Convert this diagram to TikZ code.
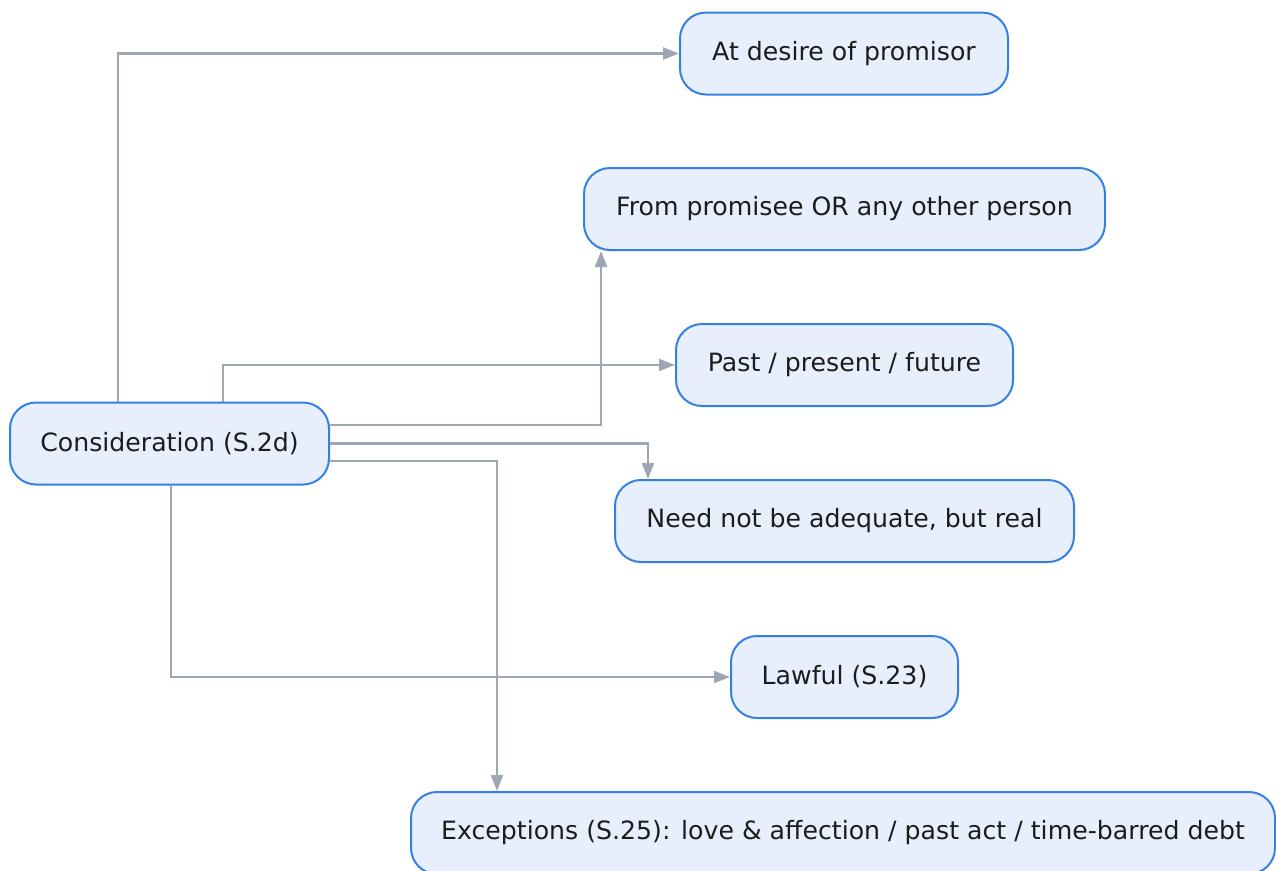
\documentclass[tikz,border=0pt]{standalone}
\usepackage{fontspec}
\setmainfont{DejaVu Sans}
\usetikzlibrary{arrows.meta}
\definecolor{boxfill}{HTML}{E8EFFC}
\definecolor{boxline}{HTML}{3580E4}
\definecolor{wire}{HTML}{9CA6B5}
\definecolor{ink}{HTML}{1C1C1C}
\begin{document}
\begin{tikzpicture}[x=1pt,y=-1pt,
  box/.style={draw=boxline, fill=boxfill, line width=2pt, rounded corners=26pt,
    minimum height=82pt, inner sep=0pt, text=ink,
    font=\fontsize{25.2}{30}\selectfont},
  link/.style={draw=wire, line width=2.2pt,
    -{Triangle[length=16pt,width=12pt]}}]
  \useasboundingbox (0,0) rectangle (1276,870);

  % root concept
  \node[box, minimum width=319pt] (cons) at (169.5,443.5) {Consideration (S.2d)};

  % the six characteristics
  \node[box, minimum width=328pt] (desire) at (844,53.5) {At desire of promisor};
  \node[box, minimum width=521pt] (from)   at (844.5,209) {From promisee OR any other person};
  \node[box, minimum width=337pt] (past)   at (844.5,365) {Past / present / future};
  \node[box, minimum width=459pt] (need)   at (844.5,521) {Need not be adequate, but real};
  \node[box, minimum width=227pt] (lawful) at (844.5,677) {Lawful (S.23)};
  \node[box, minimum width=864pt] (exc)    at (843,833) {Exceptions (S.25): love \& affection / past act / time-barred debt};

  % connectors
  \draw[link] ([xshift=-51.5pt]cons.north) |- (desire.west);
  \draw[link] ([yshift=18.5pt]cons.east) -| ([xshift=-243.5pt]from.south);
  \draw[link] ([xshift=53.5pt]cons.north) |- (past.west);
  \draw[link] (cons.east) -| ([xshift=-196.5pt]need.north);
  \draw[link] ([xshift=1.5pt]cons.south) |- (lawful.west);
  \draw[link] ([yshift=-17.5pt]cons.east) -| ([xshift=-346pt]exc.north);
\end{tikzpicture}
\end{document}
